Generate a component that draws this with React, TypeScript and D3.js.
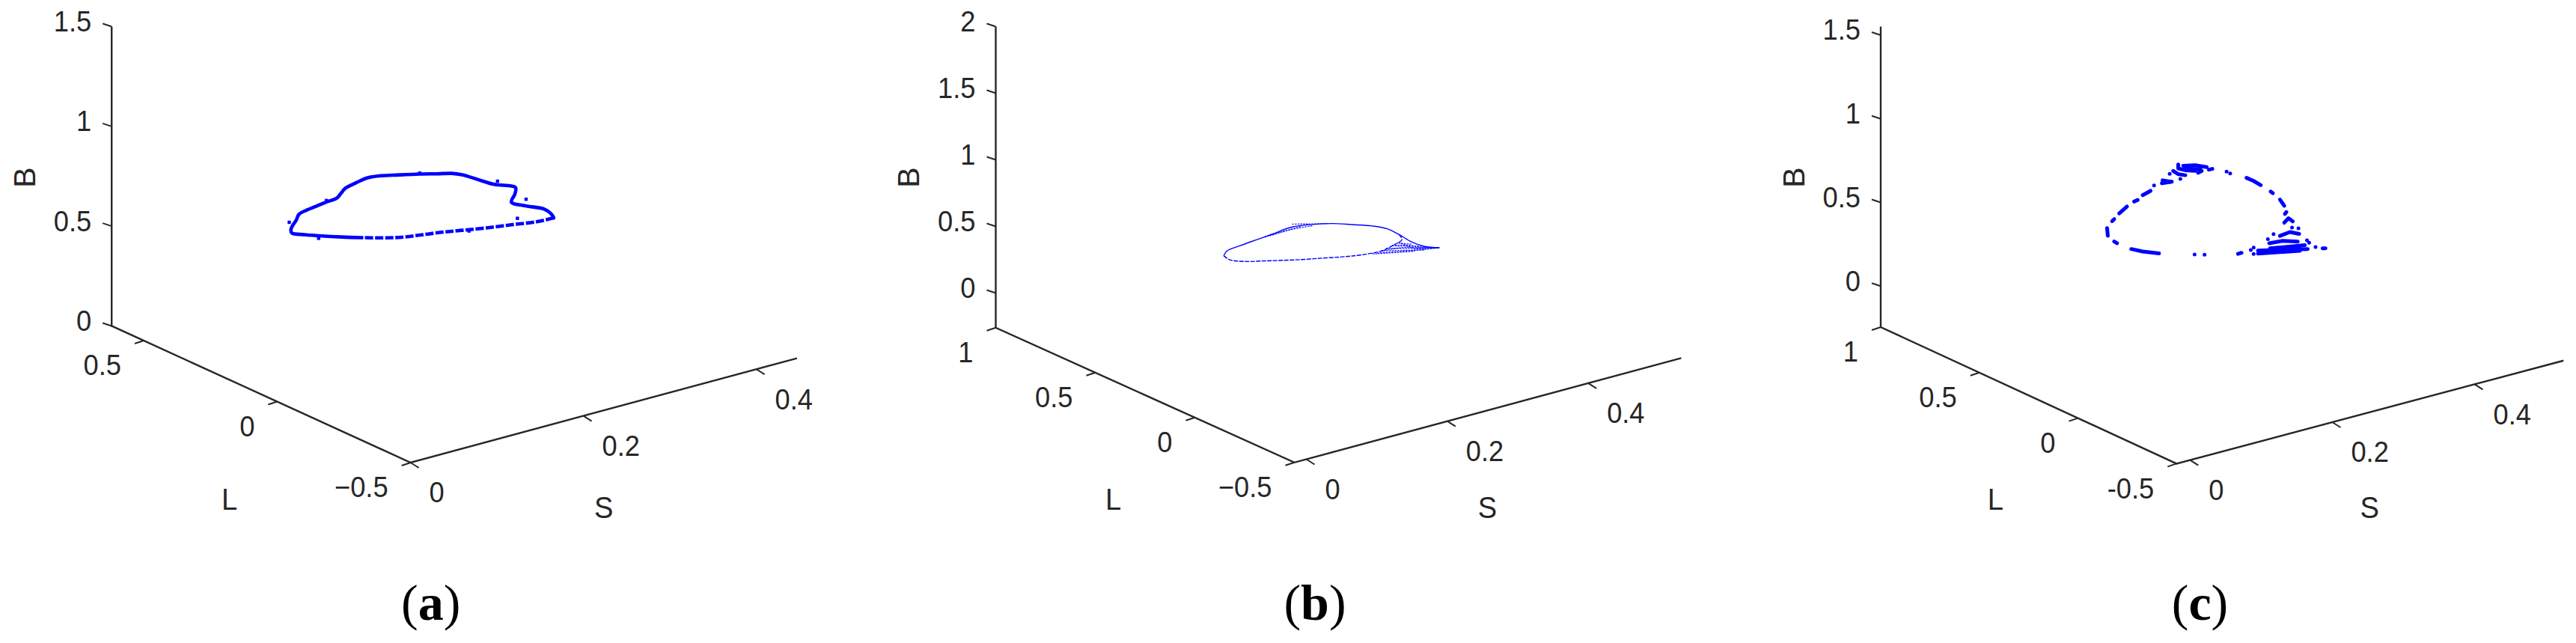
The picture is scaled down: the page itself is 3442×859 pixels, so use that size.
import React from 'react';
import * as d3 from 'd3';

type Pt = [number, number];

const bTicksA = [0, 0.5, 1, 1.5];
const bTicksB = [0, 0.5, 1, 1.5, 2];
const bTicksC = [0, 0.5, 1, 1.5];
const lTicksA = [-0.5, 0, 0.5];
const lTicksB = [-0.5, 0, 0.5, 1];
const lTicksC = [-0.5, 0, 0.5, 1];
const sTicks = [0, 0.2, 0.4];

// every curve is read as [S, B] and sits in the L = 0 plane
const curveL = 0;

const solidA: Pt[] = [
	[0.098, 0.707], [0.075, 0.737], [0.052, 0.769], [0.032, 0.799], [0.017, 0.825], [0.016, 0.845],
	[0.019, 0.867], [0.022, 0.882], [0.025, 0.908], [0.033, 0.919], [0.045, 0.926], [0.056, 0.933],
	[0.069, 0.939], [0.074, 0.958], [0.079, 0.977], [0.091, 0.989], [0.104, 0.999], [0.118, 0.993],
	[0.141, 0.971], [0.165, 0.947], [0.185, 0.925], [0.202, 0.907], [0.214, 0.886], [0.231, 0.844],
	[0.251, 0.795], [0.271, 0.763], [0.276, 0.748], [0.275, 0.718], [0.271, 0.682], [0.286, 0.647],
	[0.309, 0.603], [0.317, 0.57], [0.32, 0.546],
];
const dashedA: Pt[] = [
	[0.32, 0.546], [0.3, 0.55], [0.271, 0.569], [0.242, 0.587], [0.214, 0.608], [0.19, 0.626],
	[0.167, 0.64], [0.144, 0.655], [0.121, 0.679], [0.098, 0.707],
];
const strayA: Pt[] = [
	[0.014, 0.882], [0.057, 0.941], [0.048, 0.762], [0.165, 0.952], [0.255, 0.806], [0.288, 0.677],
	[0.278, 0.593], [0.222, 0.595],
];

const upperB: Pt[] = [
	[0.024, 0.896], [0.029, 0.926], [0.047, 0.938], [0.072, 0.95], [0.093, 0.96], [0.121, 0.973],
	[0.15, 0.951], [0.178, 0.918], [0.206, 0.87], [0.235, 0.818], [0.256, 0.767], [0.273, 0.699],
	[0.291, 0.618], [0.309, 0.559], [0.33, 0.52],
];
const lowerB: Pt[] = [
	[0.024, 0.896], [0.033, 0.852], [0.054, 0.81], [0.079, 0.778], [0.107, 0.743], [0.135, 0.709],
	[0.164, 0.678], [0.188, 0.652], [0.206, 0.634], [0.227, 0.619], [0.249, 0.612], [0.263, 0.63],
	[0.277, 0.656], [0.273, 0.699],
];
const hatchB: Pt[][] = [
	[[0.242, 0.604], [0.277, 0.568], [0.305, 0.541], [0.33, 0.52]],
	[[0.263, 0.63], [0.284, 0.605], [0.305, 0.56], [0.33, 0.52]],
	[[0.249, 0.612], [0.277, 0.596], [0.298, 0.566], [0.33, 0.52]],
	[[0.272, 0.646], [0.295, 0.565], [0.33, 0.52]],
	[[0.272, 0.636], [0.291, 0.602]],
	[[0.263, 0.63], [0.302, 0.569]],
	[[0.254, 0.623], [0.312, 0.54]],
	[[0.247, 0.615], [0.309, 0.532]],
	[[0.235, 0.608], [0.295, 0.543]],
	[[0.082, 0.953], [0.107, 0.959], [0.128, 0.953], [0.15, 0.941]],
	[[0.121, 0.995], [0.15, 0.955], [0.171, 0.928]],
	[[0.089, 0.952], [0.135, 0.961]],
];

const segmentsC: Pt[][] = [
	[[0.022, 0.844], [0.023, 0.798]],
	[[0.032, 0.753], [0.036, 0.738]],
	[[0.029, 0.878], [0.032, 0.887]],
	[[0.039, 0.913], [0.05, 0.942]],
	[[0.06, 0.96], [0.065, 0.964]],
	[[0.072, 0.985], [0.083, 0.998]],
	[[0.088, 1.025]],
	[[0.099, 1.025], [0.113, 1.019]],
	[[0.1, 1.042], [0.111, 1.021]],
	[[0.11, 1.069]],
	[[0.115, 1.081], [0.122, 1.054], [0.132, 1.036]],
	[[0.125, 1.022]],
	[[0.122, 1.111], [0.122, 1.088], [0.132, 1.066], [0.146, 1.046]],
	[[0.129, 1.096], [0.146, 1.08], [0.162, 1.051]],
	[[0.13, 1.078], [0.153, 1.049]],
	[[0.15, 1.03], [0.155, 1.036]],
	[[0.165, 1.032], [0.17, 1.031]],
	[[0.19, 0.992]],
	[[0.195, 0.975]],
	[[0.218, 0.923], [0.228, 0.893], [0.238, 0.857]],
	[[0.252, 0.803], [0.255, 0.789]],
	[[0.265, 0.74], [0.271, 0.696]],
	[[0.274, 0.655], [0.272, 0.646]],
	[[0.271, 0.595], [0.277, 0.615], [0.283, 0.589]],
	[[0.282, 0.554]],
	[[0.291, 0.539]],
	[[0.265, 0.523], [0.279, 0.53], [0.292, 0.504]],
	[[0.256, 0.544]],
	[[0.248, 0.523]],
	[[0.25, 0.496], [0.269, 0.489], [0.29, 0.461]],
	[[0.251, 0.464], [0.3, 0.428]],
	[[0.234, 0.47], [0.304, 0.4]],
	[[0.234, 0.452], [0.293, 0.402]],
	[[0.248, 0.446], [0.293, 0.417]],
	[[0.303, 0.454]],
	[[0.306, 0.436]],
	[[0.315, 0.4]],
	[[0.325, 0.381], [0.329, 0.376]],
	[[0.228, 0.495]],
	[[0.224, 0.485]],
	[[0.228, 0.457]],
	[[0.206, 0.482], [0.211, 0.483]],
	[[0.145, 0.547]],
	[[0.159, 0.53]],
	[[0.056, 0.681], [0.072, 0.648], [0.095, 0.611]],
];

const BLUE = '#0000ff';
const INK = '#262626';
const SANS = "'Liberation Sans', Arial, sans-serif";
const SERIF = "'Liberation Serif', 'Times New Roman', serif";
const TICK_SIZE = 39;
const TITLE_SIZE = 41;
// the reference was squeezed sideways when it was placed in the page
const SQUEEZE = 0.93;

type Frame = {
	origin: Pt;
	sPerUnit: Pt;
	lPerUnit: Pt;
	bPerUnit: number;
	sDomain: Pt;
	lDomain: Pt;
	bDomain: Pt;
	bTicks: number[];
	lTicks: number[];
	captionX: number;
	caption: string;
	minus: string;
};

const fmt = (v: number, minus: string) =>
	v < 0 ? `${minus}${Math.abs(v)}` : `${v}`;

const Label = ({ x, y, size = TICK_SIZE, anchor = 'start', children }: any) => (
	<text
		transform={`translate(${x},${y}) scale(${SQUEEZE},1)`}
		textAnchor={anchor}
		dominantBaseline='central'
		fontSize={size}
		fill={INK}
		fontFamily={SANS}
	>
		{children}
	</text>
);

// oblique projection of the MATLAB view: one linear scale per axis and screen direction
const makeProject = (f: Frame) => {
	const sx = d3.scaleLinear().domain([0, 1]).range([0, f.sPerUnit[0]]);
	const sy = d3.scaleLinear().domain([0, 1]).range([0, f.sPerUnit[1]]);
	const lx = d3.scaleLinear().domain([-0.5, 0.5]).range([0, f.lPerUnit[0]]);
	const ly = d3.scaleLinear().domain([-0.5, 0.5]).range([0, f.lPerUnit[1]]);
	const by = d3
		.scaleLinear()
		.domain([f.bDomain[0], f.bDomain[0] + 1])
		.range([0, -f.bPerUnit]);
	return (s: number, l: number, b: number): Pt => [
		f.origin[0] + sx(s) + lx(l),
		f.origin[1] + sy(s) + ly(l) + by(b),
	];
};

const Frame3D = ({ f, children }: { f: Frame; children: (p: any) => React.ReactNode }) => {
	const project = makeProject(f);
	const [sMin, sMax] = f.sDomain;
	const [lMin, lMax] = f.lDomain;
	const [bMin, bMax] = f.bDomain;
	const corner = project(sMin, lMin, bMin);
	const back = project(sMin, lMax, bMin);
	const top = project(sMin, lMax, bMax);
	const right = project(sMax, lMin, bMin);
	const axisPath = d3.line()([top, back, corner, right]) as string;

	return (
		<g>
			<path d={axisPath} fill='none' stroke={INK} strokeWidth={2.4} />
			{/* B ticks */}
			{f.bTicks.map((v) => {
				const [x, y] = project(sMin, lMax, v);
				return (
					<g key={'b' + v}>
						<line x1={x} y1={y} x2={x - 12} y2={y - 4} stroke={INK} strokeWidth={2} />
						<Label x={x - 27} y={y - 7} anchor='end'>{fmt(v, f.minus)}</Label>
					</g>
				);
			})}
			{/* L ticks */}
			{f.lTicks.map((v) => {
				const [x, y] = project(sMin, v, bMin);
				return (
					<g key={'l' + v}>
						<line x1={x} y1={y} x2={x - 12} y2={y + 4} stroke={INK} strokeWidth={2} />
						<Label x={x - 30} y={y + 33} anchor='end'>{fmt(v, f.minus)}</Label>
					</g>
				);
			})}
			{/* S ticks */}
			{sTicks.map((v) => {
				const [x, y] = project(v, lMin, bMin);
				return (
					<g key={'s' + v}>
						<line x1={x} y1={y} x2={x + 11} y2={y + 7} stroke={INK} strokeWidth={2} />
						<Label x={x + 25} y={y + 40}>{v}</Label>
					</g>
				);
			})}
			<text
				transform={`translate(${back[0] - 116},237) rotate(-90)`}
				textAnchor='middle'
				dominantBaseline='central'
				fontSize={TITLE_SIZE}
				fill={INK}
				fontFamily={SANS}
			>
				B
			</text>
			<Label x={corner[0] - 242} y={667} size={TITLE_SIZE} anchor='middle'>L</Label>
			<Label x={corner[0] + 258} y={678} size={TITLE_SIZE} anchor='middle'>S</Label>
			{children(project)}
			<text x={f.captionX} y={805} textAnchor='middle' dominantBaseline='central' fontSize={68} fill='#000' fontFamily={SERIF}>
				(<tspan fontWeight='bold'>{f.caption}</tspan>)
			</text>
		</g>
	);
};

const frameA: Frame = {
	origin: [548.6, 618],
	sPerUnit: [1155, -312],
	lPerUnit: [-356.6, -163],
	bPerUnit: 266.6,
	sDomain: [0, 0.447],
	lDomain: [-0.5, 0.62],
	bDomain: [0, 1.5],
	bTicks: bTicksA,
	lTicks: lTicksA,
	captionX: 575.7,
	caption: 'a',
	minus: '\u2212',
};

const frameB: Frame = {
	origin: [1745.5, 613.5],
	sPerUnit: [941.6, -254],
	lPerUnit: [-266, -120],
	bPerUnit: 178,
	sDomain: [-0.017, 0.532],
	lDomain: [-0.5, 1],
	bDomain: [-0.26, 2],
	bTicks: bTicksB,
	lTicks: lTicksB,
	captionX: 1757,
	caption: 'b',
	minus: '\u2212',
};

const frameC: Frame = {
	origin: [2926.3, 614.6],
	sPerUnit: [950.5, -253],
	lPerUnit: [-263.5, -121.6],
	bPerUnit: 223.5,
	sDomain: [-0.019, 0.525],
	lDomain: [-0.5, 1],
	bDomain: [-0.245, 1.551],
	bTicks: bTicksC,
	lTicks: lTicksC,
	captionX: 2939.5,
	caption: 'c',
	minus: '-',
};

const curvePath = (project: any, pts: Pt[], smooth = false) => {
	const line = d3
		.line<Pt>()
		.x((d) => project(d[0], curveL, d[1])[0])
		.y((d) => project(d[0], curveL, d[1])[1]);
	if (smooth && pts.length > 2) line.curve(d3.curveCatmullRom.alpha(0.5));
	return line(pts) as string;
};

const App = () => {
	return (
		<svg
			width={3442}
			height={859}
			style={{ position: 'absolute', left: 0, top: 0, background: '#fff' }}
		>
			<Frame3D f={frameA}>
				{(project) => (
					<g fill='none' stroke={BLUE}>
						<path d={curvePath(project, solidA, true)} strokeWidth={4.6} strokeLinejoin='round' strokeLinecap='round' />
						<path d={curvePath(project, dashedA, true)} strokeWidth={4.6} strokeDasharray='11 2.5' />
						{strayA.map((d, i) => (
							<path key={i} d={curvePath(project, [d])} strokeWidth={4.4} strokeLinecap='square' />
						))}
					</g>
				)}
			</Frame3D>
			<Frame3D f={frameB}>
				{(project) => (
					<g fill='none' stroke={BLUE} strokeWidth={1.4} strokeLinejoin='round'>
						<path d={curvePath(project, upperB, true)} />
						<path d={curvePath(project, lowerB, true)} strokeDasharray='6 1.5' />
						{hatchB.map((d, i) => (
							<path key={i} d={curvePath(project, d, true)} strokeDasharray='2.5 1.2' strokeOpacity={0.8} />
						))}
					</g>
				)}
			</Frame3D>
			<Frame3D f={frameC}>
				{(project) => (
					<g fill='none' stroke={BLUE} strokeWidth={5} strokeLinecap='round' strokeLinejoin='round'>
						{segmentsC.map((d, i) => (
							<path key={i} d={curvePath(project, d)} />
						))}
					</g>
				)}
			</Frame3D>
		</svg>
	);
};

export default App;
